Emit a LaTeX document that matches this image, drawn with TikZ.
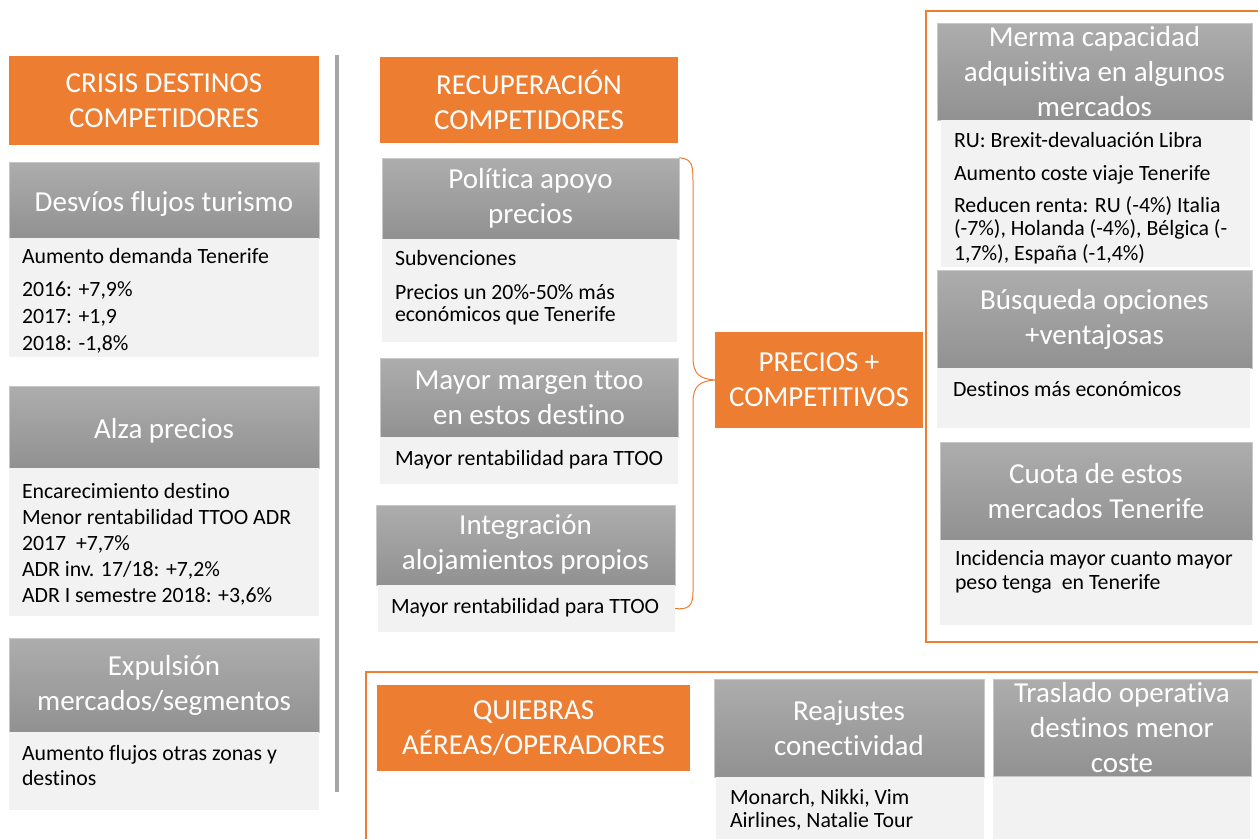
\documentclass[tikz,border=0pt]{standalone}
\usepackage{fontspec}
\setmainfont{Carlito}[Ligatures=NoCommon]
\usetikzlibrary{positioning}
\definecolor{corange}{HTML}{ED7D31}
\definecolor{chtop}{HTML}{ADADAD}
\definecolor{chbot}{HTML}{919191}
\definecolor{chline}{HTML}{C8C8C8}
\definecolor{cbody}{HTML}{F2F2F2}
\definecolor{cgrey}{HTML}{A6A6A6}
\tikzset{
  title/.style={fill=corange, text=white, align=center, inner sep=0pt, font=\fontsize{29}{35}\selectfont},
  head/.style={top color=chtop, bottom color=chbot, draw=chline, line width=0.6pt, text=white, align=center, inner sep=0pt,
    font=\fontsize{29}{35}\selectfont, execute at begin node={\rule{0pt}{#1}}},
  head/.default=32pt,
  body/.style={fill=cbody, inner sep=0pt},
  txt/.style={font=\fontsize{21.8}{24}\selectfont, align=left, inner sep=0pt},
  frame/.style={draw=corange, line width=1.6pt},
  brace/.style={draw=corange, line width=1pt},
  sepline/.style={draw=cgrey, line width=4pt},
}

\begin{document}
\begin{tikzpicture}[x=1pt, y=-1pt]
  \useasboundingbox (0,0) rectangle (1258,838);
  \clip (0,0) rectangle (1258,838);
  % frames round the right and bottom groups
  \draw[frame] (926,11) rectangle (1270,642);
  \draw[frame] (366,672) rectangle (1270,850);
  \draw[sepline] (337,55) -- (337,792);

  % left column
  \node[title, minimum width=310, minimum height=89] (crisis) at (164,100.5) {CRISIS DESTINOS\\COMPETIDORES};
  \node[head=27pt, minimum width=310, minimum height=76] (desvH) at (164,200) {Desvíos flujos turismo};
  \node[body, minimum width=310, minimum height=119] (desvB) at (164,297.5) {};
  \node[txt, below right=10pt and 13pt of desvB.north west] (desvT) {Aumento demanda Tenerife\\[9pt] 2016: +7,9\%\\[3pt] 2017: +1,9\\[3pt] 2018: -1,8\%};
  \node[head=27pt, minimum width=310, minimum height=82] (alzaH) at (164,427) {Alza precios};
  \node[body, minimum width=310, minimum height=148] (alzaB) at (164,542) {};
  \node[txt, below right=15pt and 13pt of alzaB.north west] (alzaT) {Encarecimiento destino\\[2pt] Menor rentabilidad TTOO ADR\\[2pt] 2017\ \ +7,7\%\\[2pt] ADR inv. 17/18: +7,2\%\\[2pt] ADR I semestre 2018: +3,6\%};
  \node[head, minimum width=310, minimum height=94] (expH) at (164,685) {Expulsión\\mercados/segmentos};
  \node[body, minimum width=310, minimum height=78] (expB) at (164,771) {};
  \node[txt, below right=13pt and 13pt of expB.north west] (expT) {Aumento flujos otras zonas y\\[1pt] destinos};

  % middle column
  \node[title, minimum width=298, minimum height=86] (recup) at (529,100) {RECUPERACIÓN\\COMPETIDORES};
  \node[head, minimum width=297, minimum height=81] (polH) at (530.5,198.5) {Política apoyo\\precios};
  \node[body, minimum width=295, minimum height=103] (polB) at (529.5,290.5) {};
  \node[txt, below right=11pt and 13pt of polB.north west] (polT) {Subvenciones\\[10pt] Precios un 20\%-50\% más\\[-2pt] económicos que Tenerife};
  \node[head, minimum width=298, minimum height=79] (margH) at (529,397.5) {Mayor margen ttoo\\en estos destino};
  \node[body, minimum width=298, minimum height=47] (margB) at (529,460.5) {};
  \node[txt, below right=13pt and 15pt of margB.north west] (margT) {Mayor rentabilidad para TTOO};
  \node[head, minimum width=299, minimum height=80] (intH) at (525.5,545) {Integración\\alojamientos propios};
  \node[body, minimum width=297, minimum height=47] (intB) at (526.5,608.5) {};
  \node[txt, below right=13pt and 13pt of intB.north west] (intT) {Mayor rentabilidad para TTOO};
  \node[title, minimum width=208, minimum height=96] (precios) at (819,380) {PRECIOS +\\COMPETITIVOS};
  \draw[brace] (polH.north east) .. controls (693,159) and (693,166) .. (693,184) -- (693,358)
    .. controls (693,374) and (700,379) .. (precios.west)
    .. controls (700,381) and (693,386) .. (693,402) -- (693,592)
    .. controls (693,606) and (688,610) .. (intB.east);

  % right column
  \node[head, minimum width=315, minimum height=97] (mermH) at (1094.5,71.5) {Merma capacidad\\adquisitiva en algunos\\mercados};
  \node[body, minimum width=309, minimum height=147] (mermB) at (1095.5,193.5) {};
  \node[txt, below right=12pt and 13pt of mermB.north west] (mermT) {RU: Brexit-devaluación Libra\\[9pt] Aumento coste viaje Tenerife\\[8pt] Reducen renta: RU (-4\%) Italia\\[-1pt] (-7\%), Holanda (-4\%), Bélgica (-\\[1pt] 1,7\%), España (-1,4\%)};
  \node[head, minimum width=315, minimum height=98] (busqH) at (1094.5,319) {Búsqueda opciones\\+ventajosas};
  \node[body, minimum width=313, minimum height=60] (busqB) at (1093.5,398) {};
  \node[txt, below right=13pt and 16pt of busqB.north west] (busqT) {Destinos más económicos};
  \node[head=27pt, minimum width=312, minimum height=98] (cuotH) at (1096,491) {Cuota de estos\\mercados Tenerife};
  \node[body, minimum width=312, minimum height=85] (cuotB) at (1096,582.5) {};
  \node[txt, below right=10pt and 15pt of cuotB.north west] (cuotT) {Incidencia mayor cuanto mayor\\ peso tenga\ \ en Tenerife};

  % bottom group
  \node[title, minimum width=313, minimum height=86] (quieb) at (533.5,728) {QUIEBRAS\\AÉREAS/OPERADORES};
  \node[head, minimum width=270, minimum height=98] (reajH) at (849,728) {Reajustes\\conectividad};
  \node[body, minimum width=268, minimum height=70] (reajB) at (850,812) {};
  \node[txt, below right=12pt and 14pt of reajB.north west] (reajT) {Monarch, Nikki, Vim\\[-1pt] Airlines, Natalie Tour};
  \node[head=27pt, minimum width=258, minimum height=97] (trasH) at (1122,727.5) {Traslado operativa\\destinos menor\\coste};
  \node[body, minimum width=257, minimum height=70] (trasB) at (1121.5,812) {};
\end{tikzpicture}
\end{document}
